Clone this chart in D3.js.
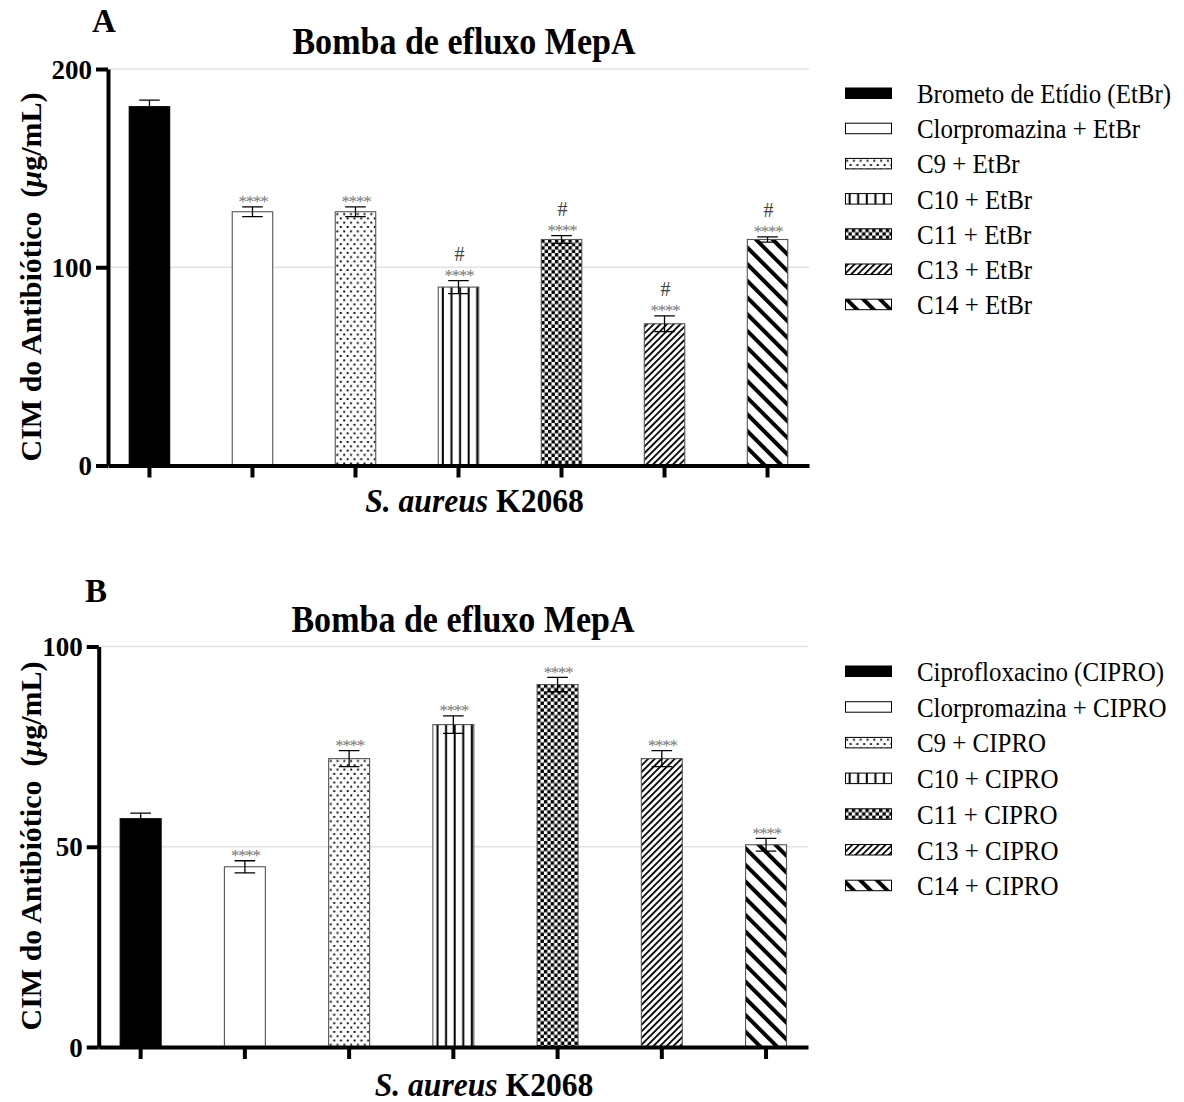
<!DOCTYPE html>
<html>
<head>
<meta charset="utf-8">
<script src="https://cdn.jsdelivr.net/npm/d3@7"></script>
<style>
  body { margin: 0; background: #fff; }
  svg { display: block; }
  text { font-family: 'Liberation Serif', 'Times New Roman', Times, serif; }
</style>
</head>
<body>
<svg id="fig" width="1184" height="1102"></svg>
<script>
// ---- Data: MIC (µg/mL) for S. aureus K2068, MepA efflux pump ----
const groupsEtBr = ["EtBr", "Clorpromazina", "C9", "C10", "C11", "C13", "C14"];
const valuesEtBr = [181, 128, 128, 90, 114, 71.5, 114];
const errorsEtBr = [3.3, 2.5, 2.5, 3.3, 2, 4, 1.3];
const starsEtBr  = ["", "****", "****", "****", "****", "****", "****"];
const hashEtBr   = ["", "", "", "#", "#", "#", "#"];
const legendEtBr = ["Brometo de Etídio (EtBr)", "Clorpromazina + EtBr", "C9 + EtBr",
                    "C10 + EtBr", "C11 + EtBr", "C13 + EtBr", "C14 + EtBr"];
const ticksEtBr  = [0, 100, 200];

const groupsCipro = ["CIPRO", "Clorpromazina", "C9", "C10", "C11", "C13", "C14"];
const valuesCipro = [57, 45, 72, 80.5, 90.5, 72, 50.5];
const errorsCipro = [1.4, 1.5, 2, 2.2, 1.8, 2, 1.6];
const starsCipro  = ["", "****", "****", "****", "****", "****", "****"];
const hashCipro   = ["", "", "", "", "", "", ""];
const legendCipro = ["Ciprofloxacino (CIPRO)", "Clorpromazina + CIPRO", "C9 + CIPRO",
                     "C10 + CIPRO", "C11 + CIPRO", "C13 + CIPRO", "C14 + CIPRO"];
const ticksCipro  = [0, 50, 100];

const panelTitle = "Bomba de efluxo MepA";
const xTitleItalic = "S. aureus";
const xTitleBold = " K2068";

// Fill style for each group (same order in both panels)
const fillKinds = ["solid", "open", "dots", "vlines", "check", "fwd", "back"];

const svg = d3.select("#fig");
svg.append("rect").attr("width", 1184).attr("height", 1102).attr("fill", "#fff");
const defs = svg.append("defs");

// Build a pattern anchored at (x0, y0) so stripes line up with each bar edge
function makePattern(id, kind, x0, y0) {
  const p = defs.append("pattern").attr("id", id).attr("patternUnits", "userSpaceOnUse");
  if (kind === "dots") {
    p.attr("width", 6.8).attr("height", 8.6).attr("x", x0).attr("y", y0);
    p.append("rect").attr("width", 6.8).attr("height", 8.6).attr("fill", "#fff");
    p.append("rect").attr("x", 1.2).attr("y", 1.4).attr("width", 1.9).attr("height", 1.9).attr("fill", "#000");
    p.append("rect").attr("x", 4.6).attr("y", 5.7).attr("width", 1.9).attr("height", 1.9).attr("fill", "#000");
  } else if (kind === "vlines") {
    p.attr("width", 8.6).attr("height", 10).attr("x", x0).attr("y", 0);
    p.append("rect").attr("width", 8.6).attr("height", 10).attr("fill", "#fff");
    p.append("rect").attr("x", 3.6).attr("width", 2).attr("height", 10).attr("fill", "#000");
  } else if (kind === "check") {
    p.attr("width", 6.8).attr("height", 6.8).attr("x", x0).attr("y", y0);
    p.append("rect").attr("width", 6.8).attr("height", 6.8).attr("fill", "#fff");
    p.append("rect").attr("width", 3.4).attr("height", 3.4).attr("fill", "#000");
    p.append("rect").attr("x", 3.4).attr("y", 3.4).attr("width", 3.4).attr("height", 3.4).attr("fill", "#000");
  } else if (kind === "fwd") {
    p.attr("width", 4.7).attr("height", 10).attr("patternTransform", `translate(${x0},0) rotate(45)`);
    p.append("rect").attr("width", 4.7).attr("height", 10).attr("fill", "#fff");
    p.append("rect").attr("width", 1.8).attr("height", 10).attr("fill", "#000");
  } else if (kind === "back") {
    p.attr("width", 11.8).attr("height", 10).attr("patternTransform", `translate(${x0},0) rotate(-45)`);
    p.append("rect").attr("width", 11.8).attr("height", 10).attr("fill", "#fff");
    p.append("rect").attr("width", 4).attr("height", 10).attr("fill", "#000");
  }
  return `url(#${id})`;
}
function fillFor(kind, id, x0, y0) {
  if (kind === "solid") return "#000";
  if (kind === "open") return "#fff";
  return makePattern(id, kind, x0, y0);
}

// Text placed at (x, y) with a horizontal squeeze, for a tall, narrow serif look
function squeezedText(parent, x, y, sx) {
  return parent.append("g").attr("transform", `translate(${x},${y}) scale(${sx},1)`)
    .append("text");
}

const panels = [
  { key: "a", letter: "A", groups: groupsEtBr, values: valuesEtBr, errors: errorsEtBr,
    stars: starsEtBr, hash: hashEtBr, legend: legendEtBr, ticks: ticksEtBr,
    left: 108, right: 809, top: 69, bottom: 465.5,
    letterPos: [92, 31.5], titleX: 464, titleY: 53.5, xTitleX: 474.5, xTitleY: 512, yLabelY: 277,
    legendY: 103, legendStep: 35.2 },
  { key: "b", letter: "B", groups: groupsCipro, values: valuesCipro, errors: errorsCipro,
    stars: starsCipro, hash: hashCipro, legend: legendCipro, ticks: ticksCipro,
    left: 98.7, right: 808, top: 646.5, bottom: 1047,
    letterPos: [85, 601.5], titleX: 463, titleY: 631.5, xTitleX: 484, xTitleY: 1096, yLabelY: 846,
    legendY: 681, legendStep: 35.7 }
];

panels.forEach(P => {
  const g = svg.append("g");
  const yMax = d3.max(P.ticks);
  const y = d3.scaleLinear().domain([0, yMax]).range([P.bottom, P.top]);
  const x = d3.scaleBand().domain(P.groups).range([P.left, P.right])
    .paddingInner(0.607).paddingOuter(0.206);

  // gridlines
  g.selectAll("line.grid").data(P.ticks.filter(t => t > 0)).join("line")
    .attr("x1", P.left).attr("x2", P.right)
    .attr("y1", d => y(d)).attr("y2", d => y(d))
    .attr("stroke", "#e2e2e2").attr("stroke-width", 1.5);

  // bars
  P.groups.forEach((grp, i) => {
    const bx = x(grp), by = y(P.values[i]);
    const fill = fillFor(fillKinds[i], `pat-${P.key}-${i}`, bx, by);
    g.append("rect")
      .attr("x", bx).attr("y", by)
      .attr("width", x.bandwidth()).attr("height", y(0) - by)
      .attr("fill", fill)
      .attr("stroke", i === 0 ? "#000" : "#555").attr("stroke-width", 1.1);
  });

  // error bars with significance marks
  P.groups.forEach((grp, i) => {
    const cx = x(grp) + x.bandwidth() / 2;
    const hi = y(P.values[i] + P.errors[i]), lo = y(P.values[i] - P.errors[i]);
    const cap = 10.3;
    g.append("path")
      .attr("d", `M${cx},${hi}V${lo}M${cx - cap},${hi}H${cx + cap}M${cx - cap},${lo}H${cx + cap}`)
      .attr("fill", "none").attr("stroke", "#000").attr("stroke-width", 1.3);
    if (P.stars[i]) {
      g.append("text").attr("x", cx + 0.5).attr("y", hi + 0.5)
        .attr("text-anchor", "middle").attr("font-size", 17).attr("letter-spacing", -1.3)
        .attr("fill", "#777").text(P.stars[i]);
    }
    if (P.hash[i]) {
      g.append("text").attr("x", cx + 1).attr("y", hi - 20)
        .attr("text-anchor", "middle").attr("font-size", 20)
        .attr("fill", "#444").text(P.hash[i]);
    }
  });

  // axes
  const yAxis = d3.axisLeft(y).tickValues(P.ticks).tickSize(12).tickSizeOuter(0).tickPadding(4);
  const ya = g.append("g").attr("transform", `translate(${P.left},0)`).call(yAxis);
  ya.select(".domain").attr("stroke", "#000").attr("stroke-width", 4);
  ya.selectAll(".tick line").attr("stroke", "#000").attr("stroke-width", 4);
  ya.selectAll(".tick text").attr("font-size", 27).attr("font-weight", "bold")
    .attr("fill", "#000").attr("dy", "0.34em")
    .style("font-family", "'Liberation Serif', 'Times New Roman', serif");

  const xAxis = d3.axisBottom(x).tickSize(12).tickSizeOuter(0).tickFormat("");
  const xa = g.append("g").attr("transform", `translate(0,${P.bottom})`).call(xAxis);
  xa.select(".domain").attr("stroke", "#000").attr("stroke-width", 4);
  xa.selectAll(".tick line").attr("stroke", "#000").attr("stroke-width", 4);

  // panel letter and title
  g.append("text").attr("x", P.letterPos[0]).attr("y", P.letterPos[1])
    .attr("font-size", 33).attr("font-weight", "bold").text(P.letter);
  squeezedText(g, P.titleX, P.titleY, 0.92)
    .attr("text-anchor", "middle").attr("font-size", 37).attr("font-weight", "bold")
    .text(panelTitle);

  // x axis title
  const xt = squeezedText(g, P.xTitleX, P.xTitleY, 0.93)
    .attr("text-anchor", "middle").attr("font-size", 34).attr("font-weight", "bold");
  xt.append("tspan").attr("font-style", "italic").text(xTitleItalic);
  xt.append("tspan").text(xTitleBold);

  // y axis title
  const yt = g.append("text")
    .attr("transform", `translate(41,${P.yLabelY}) rotate(-90)`)
    .attr("text-anchor", "middle").attr("font-size", 30).attr("font-weight", "bold");
  yt.append("tspan").text("CIM do Antibiótico");
  yt.append("tspan").attr("dx", 14).text("(");
  yt.append("tspan").attr("font-style", "italic").text("μ");
  yt.append("tspan").text("g/mL)");

  // legend
  const lg = g.append("g");
  P.legend.forEach((label, i) => {
    const ty = P.legendY + i * P.legendStep;
    const sy = ty - 15;
    const fill = fillFor(fillKinds[i], `leg-${P.key}-${i}`, 845, sy);
    lg.append("rect").attr("x", 845.5).attr("y", sy).attr("width", 46).attr("height", 10.5)
      .attr("fill", fill).attr("stroke", "#000").attr("stroke-width", 1);
    squeezedText(lg, 917, ty, 0.9).attr("font-size", 27.7).text(label);
  });
});
</script>
</body>
</html>
